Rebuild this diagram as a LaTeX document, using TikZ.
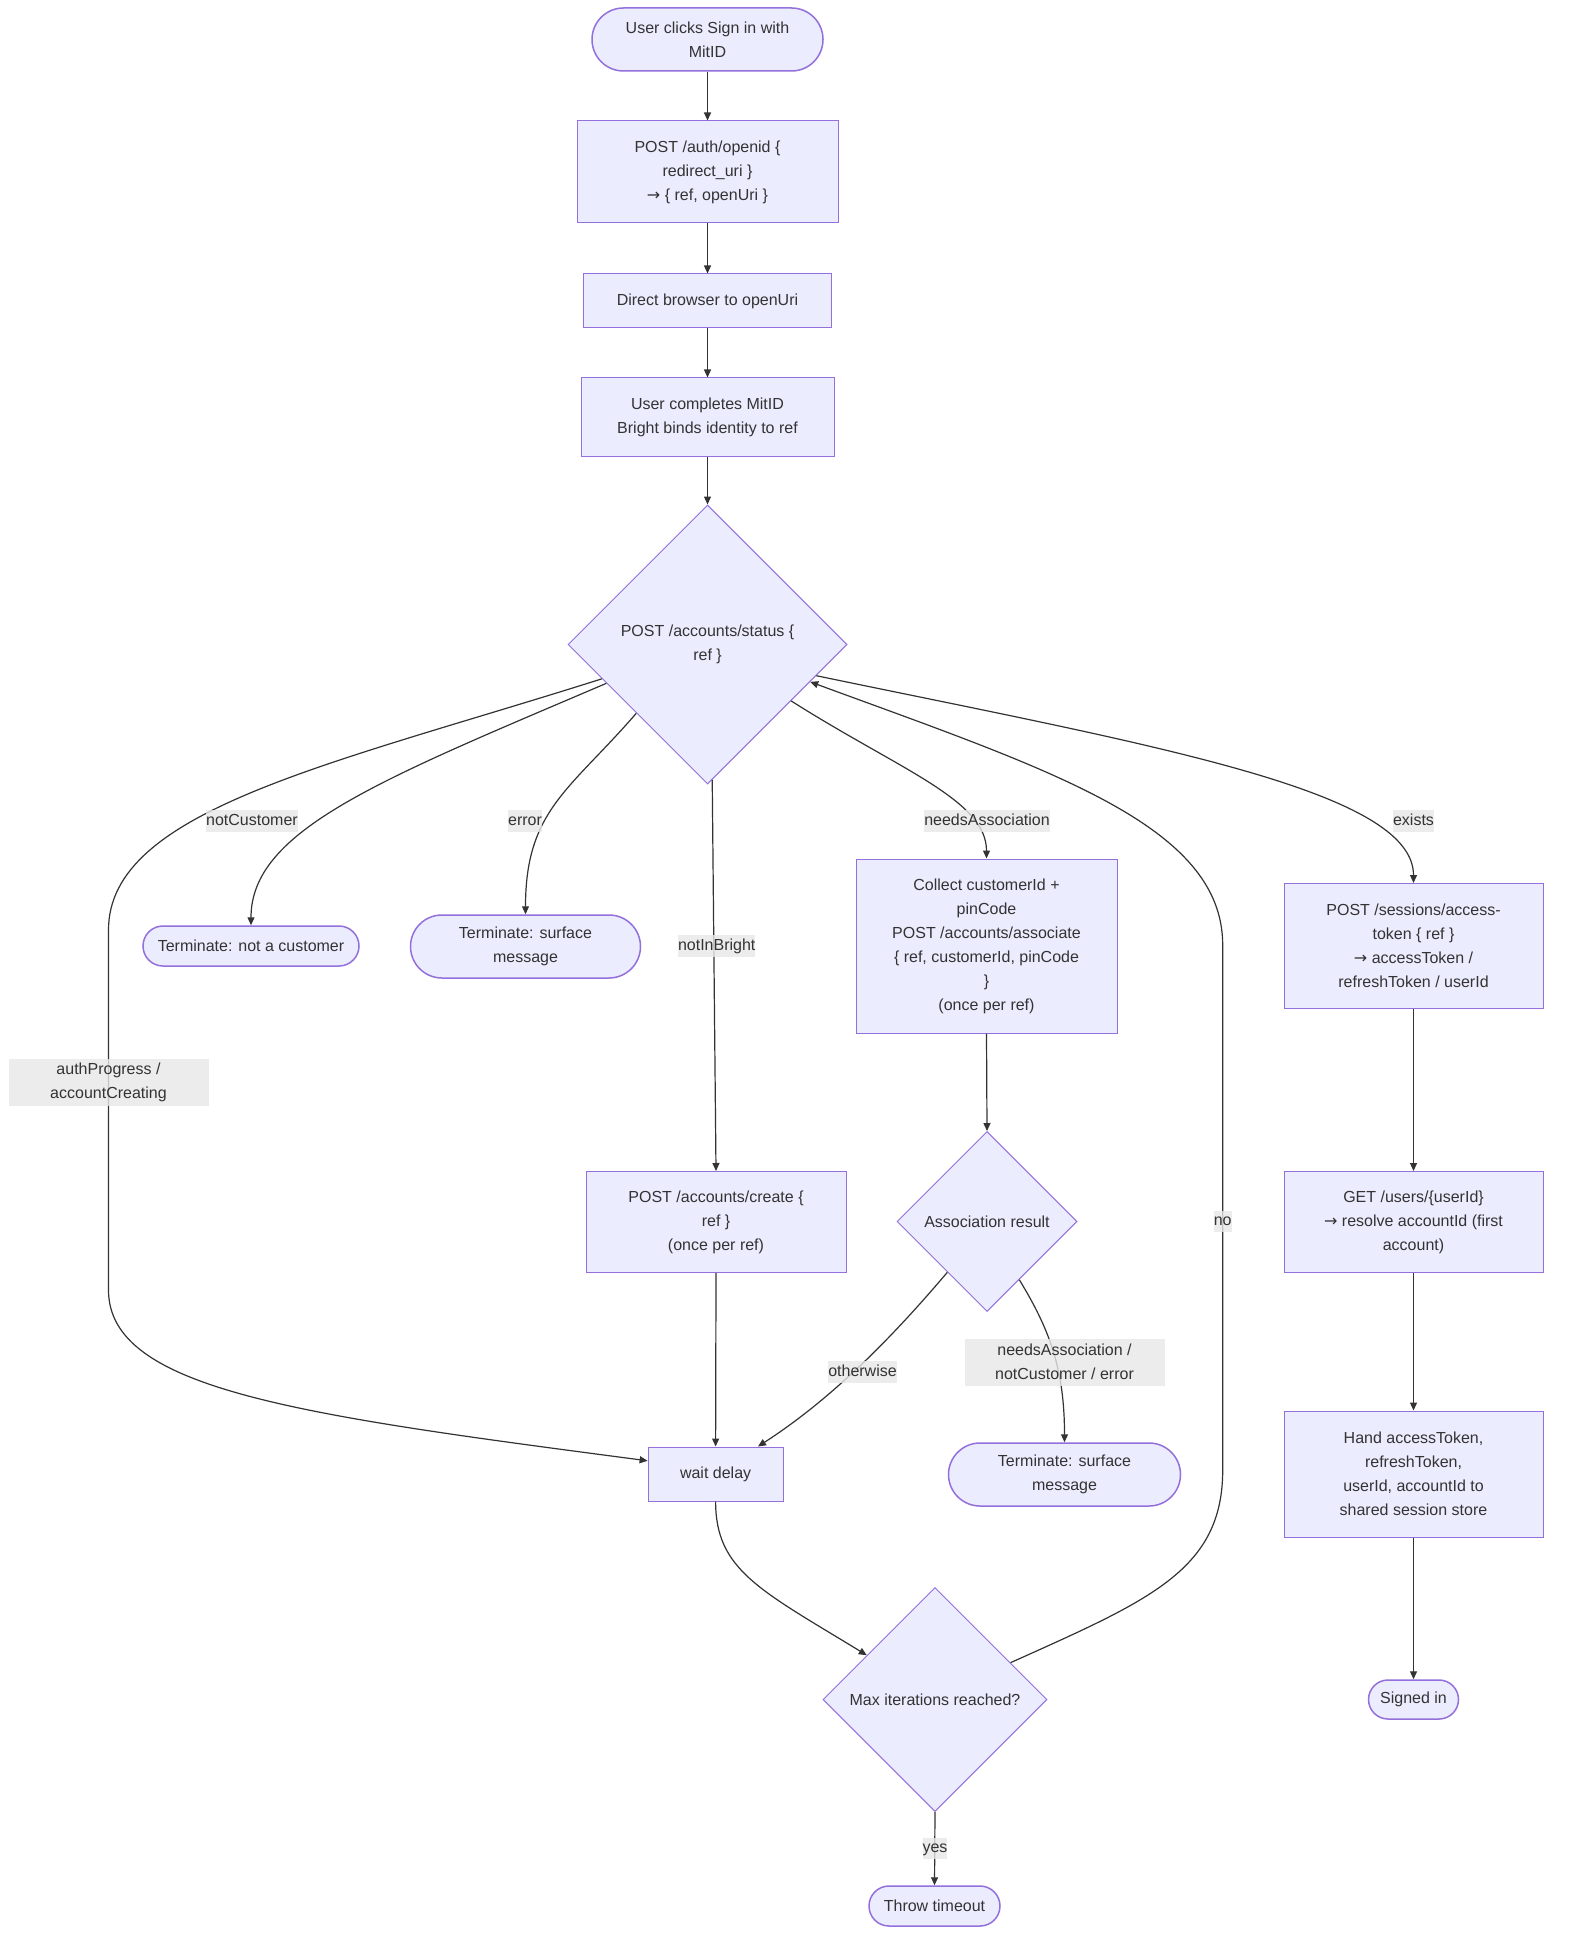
\documentclass[tikz,border=0pt]{standalone}
\usepackage{fontspec}
\setmainfont{Liberation Sans}
\newfontfamily\arrowfont{DejaVu Sans}
\usetikzlibrary{shapes.geometric,arrows.meta}
\definecolor{mfill}{HTML}{ECECFF}
\definecolor{mborder}{HTML}{9370DB}
\definecolor{medge}{HTML}{333333}
\definecolor{mlabel}{HTML}{E8E8E8}
\def\px{0.75pt}
\newcommand{\yields}{{\arrowfont →}}
\tikzset{
	every node/.style={font=\fontsize{12pt}{18pt}\selectfont, text=medge, align=center},
	box/.style n args={2}{draw=mborder, fill=mfill, line width=\px, minimum width={#1*\px}, minimum height={#2*\px}, inner sep=0pt},
	term/.style n args={2}{box={#1}{#2}, rounded corners={#2/2*\px}, line width={1.5*\px}},
	decision/.style={diamond, draw=mborder, fill=mfill, line width=\px, minimum width={#1*\px}, minimum height={#1*\px}, inner sep=0pt},
	flow/.style={draw=medge, line width={1.2*\px}, -{Triangle[length=6pt, width=5.25pt]}},
	elabel/.style={fill=mlabel, fill opacity=0.8, text opacity=1, inner xsep=0pt, inner ysep=1.3pt, text height=10pt, text depth=3.5pt},
	elabelwide/.style={fill=mlabel, fill opacity=0.8, text opacity=1, inner sep=0pt, minimum width={200*\px}, minimum height={47*\px}},
}
\begin{document}
\begin{tikzpicture}[x=\px, y=-\px]
			\fill[white] (0,0) rectangle (1568,1954);
			\node[term={231}{63}] (start) at (707.5,39.5) {User clicks Sign in with\\MitID};
			\node[box={261}{102}] (auth) at (707.5,172) {POST /auth/openid \{\\redirect\_uri \}\\\yields{} \{ ref, openUri \}};
			\node[box={248}{54}] (direct) at (707.5,301) {Direct browser to openUri};
			\node[box={253}{78}] (mitid) at (707.5,417) {User completes MitID\\Bright binds identity to ref};
			\node[decision=279] (status) at (707.5,644.5) {POST /accounts/status \{\\ref \}};
			\node[term={216}{40}] (notcust) at (251,946) {Terminate: not a customer};
			\node[term={230}{63}] (surface1) at (525.5,946.5) {Terminate: surface\\message};
			\node[box={261}{174}] (collect) at (986.5,946) {Collect customerId +\\pinCode\\POST /accounts/associate\\\{ ref, customerId, pinCode\\\}\\(once per ref)};
			\node[box={259}{125}] (session) at (1413.5,946) {POST /sessions/access-\\token \{ ref \}\\\yields{} accessToken /\\refreshToken / userId};
			\node[box={260}{101}] (create) at (716,1222) {POST /accounts/create \{\\ref \}\\(once per ref)};
			\node[decision=180] (assoc) at (987,1221.5) {Association result};
			\node[box={259}{101}] (getuser) at (1413.5,1222) {GET /users/\{userId\}\\\yields{} resolve accountId (first\\account)};
			\node[box={259}{126}] (hand) at (1413.5,1474) {Hand accessToken,\\refreshToken,\\userId, accountId to\\shared session store};
			\node[box={135}{54}] (wait) at (715.6,1474) {wait delay};
			\node[term={232}{63}] (surface2) at (1064.5,1474.5) {Terminate: surface\\message};
			\node[decision=224] (maxit) at (935,1699.5) {Max iterations reached?};
			\node[term={90}{39}] (signed) at (1413.5,1699.5) {Signed in};
			\node[term={131}{40}] (timeout) at (934.5,1906) {Throw timeout};
			\foreach \a/\b in {start/auth, auth/direct, direct/mitid, mitid/status, session/getuser, getuser/hand, hand/signed, collect/assoc, create/wait, maxit/timeout} {
				\draw[flow] (\a.south) -- (\b.north);
			}
			\draw[flow] (status.272.6) -- (create.north);
			\draw[flow] (status.198.4) .. controls (330,765) and (108.5,810) .. (108.5,930)
			-- (108.5,1290) .. controls (108.5,1390) and (300,1415) .. (wait.169.1);
			\draw[flow] (status.201.6) .. controls (380,780) and (251,830) .. (notcust.north);
			\draw[flow] (status.224.6) .. controls (570,790) and (525.5,810) .. (surface1.north);
			\draw[flow] (status.326.7) .. controls (900,770) and (986.5,800) .. (collect.north);
			\draw[flow] (status.344.9) .. controls (1150,745) and (1413.5,790) .. (session.north);
			\draw[flow] (assoc.232.1) .. controls (890,1340) and (830,1400) .. (wait.33.4);
			\draw[flow] (assoc.299.5) .. controls (1050,1330) and (1064.5,1370) .. (surface2.north);
			\draw[flow] (wait.south) .. controls (715.6,1570) and (760,1590) .. (maxit.147.3);
			\draw[flow] (maxit.26.6) .. controls (1150,1600) and (1222.7,1570) .. (1222.7,1470)
			-- (1222.7,945) .. controls (1222.7,825) and (1050,770) .. (status.340.6);
			\node[elabelwide] (lauth) at (108.5,1082) {authProgress /\\accountCreating};
			\node[elabel] (lnotcust) at (252,821) {notCustomer};
			\node[elabel] (lerror) at (525,821) {error};
			\node[elabel] (lnotin) at (716.7,946) {notInBright};
			\node[elabel] (lneeds) at (987,821) {needsAssociation};
			\node[elabel] (lexists) at (1413.5,821) {exists};
			\node[elabel] (lno) at (1222.7,1221.5) {no};
			\node[elabel] (lother) at (862.5,1372) {otherwise};
			\node[elabelwide] (lfail) at (1064.5,1362) {needsAssociation /\\notCustomer / error};
			\node[elabel] (lyes) at (935,1848.5) {yes};
	\end{tikzpicture}
\end{document}
